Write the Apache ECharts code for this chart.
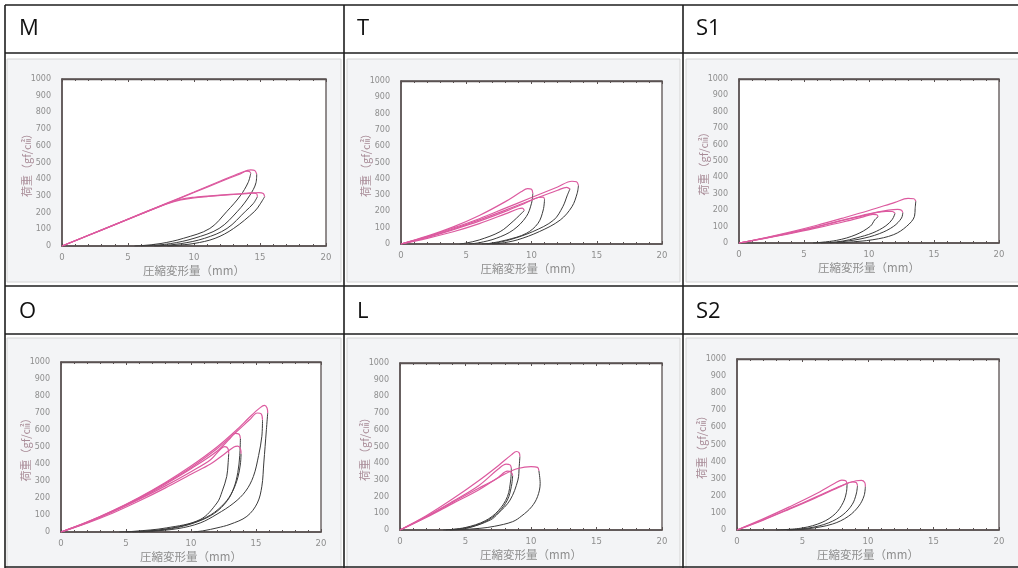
<!DOCTYPE html>
<html><head><meta charset="utf-8">
<script src="https://cdn.jsdelivr.net/npm/echarts@6/dist/echarts.min.js"></script>
<style>html,body{margin:0;padding:0;background:#fff}#c{width:1018px;height:568px}</style>
</head><body><div id="c"></div>
<script>
// ---- panel titles ----
const panelNames = ['M', 'T', 'S1', 'O', 'L', 'S2'];
const xTicks = [0, 5, 10, 15, 20];
const yTicks = [0, 100, 200, 300, 400, 500, 600, 700, 800, 900, 1000];
const xName = '圧縮変形量（mm）';
const yName = '荷重（gf/㎠）';

// ---- M: loading (pink) and unloading (black) curves, [mm, gf/cm2] ----
const M_load = [
  [[0,0],[2,63],[4,127],[6,192],[8,256],[10,320],[12,385],[13.5,432],[14.0,448],[14.2,446],[14.3,435]],
  [[0,0],[2,64],[4,129],[6,194],[8,258],[10,323],[12,389],[13.5,437],[14.3,456],[14.6,452],[14.75,430]],
  [[0,0],[2,64],[4,128],[6,193],[8,256],[9,280],[10,292],[11,299],[12,305],[13.5,313],[14.4,318],[14.75,312],[14.8,295]],
  [[0,0],[2,64],[4,128],[6,192],[8,254],[9,276],[10,288],[11,296],[12,303],[14,314],[14.9,320],[15.25,315],[15.35,295]]
];
const M_unload = [
  [[14.3,435],[14.1,380],[13.5,300],[12.5,208],[11.2,105],[9.2,46],[7.5,15],[6,2],[5.5,0]],
  [[14.75,430],[14.7,380],[14.2,300],[13.3,208],[11.9,105],[10,46],[8.2,14],[6.5,2],[6,0]],
  [[14.8,295],[14.5,255],[13.9,208],[12.5,105],[10.8,46],[9,14],[7.5,2],[7,0]],
  [[15.35,295],[15.0,250],[14.6,208],[13.0,105],[11.6,46],[10,15],[8.5,3],[8,0]]
];

// ---- T ----
const T_load = [
  [[0,0],[2,35],[4,75],[6,125],[8,185],[9.0,216],[9.3,220],[9.45,205]],
  [[0,0],[2,48],[4,105],[6,175],[8,260],[9.2,320],[9.7,340],[10.0,336],[10.1,310]],
  [[0,0],[2,40],[4,88],[6,140],[8,200],[9.5,250],[10.5,285],[10.9,288],[11.0,275]],
  [[0,0],[2,45],[4,98],[6,155],[8,220],[10,285],[12,350],[13.1,385],[13.45,382],[13.6,360]],
  [[0,0],[2,42],[4,92],[6,148],[8,208],[10,270],[12,330],[12.7,348],[12.95,338]]
];
const T_unload = [
  [[9.45,205],[9.1,178],[8.6,140],[7.6,76],[6.0,25],[5,6],[4.5,0]],
  [[10.1,310],[10.0,250],[9.6,168],[8.6,86],[7.3,35],[6.0,8],[5.2,0]],
  [[11.0,275],[10.9,209],[10.5,127],[9.6,65],[8.1,25],[6.8,4],[6.2,0]],
  [[13.6,360],[13.5,311],[13.1,229],[12.2,147],[10.6,76],[8.9,25],[7.6,4],[7,0]],
  [[12.95,338],[12.75,300],[12.4,229],[11.7,147],[10.1,76],[8.3,25],[7.1,4],[6.6,0]]
];

// ---- S1 ----
const S1_load = [
  [[0,0],[2,28],[4,58],[6,92],[8,128],[9.5,158],[10.3,175],[10.6,172],[10.7,160]],
  [[0,0],[2,30],[4,62],[6,98],[8,138],[10,175],[11.3,193],[11.8,192],[12.0,180]],
  [[0,0],[2,30],[4,63],[6,100],[8,140],[10,178],[11.5,200],[12.2,205],[12.5,200],[12.6,185]],
  [[0,0],[2,32],[4,68],[6,108],[8,152],[10,198],[12,248],[13,272],[13.45,270],[13.6,255]]
];
const S1_unload = [
  [[10.7,160],[10.45,142],[10.1,102],[9.0,51],[7.5,16],[5.7,0]],
  [[12.0,180],[11.8,145],[11.3,105],[10.3,62],[9,30],[8,12],[7,3],[6.3,0]],
  [[12.6,185],[12.5,152],[11.9,102],[10.8,57],[9.3,24],[7.5,4],[7,0]],
  [[13.6,255],[13.55,210],[13.5,163],[12.9,102],[11.9,51],[10.3,20],[8.3,4],[7.5,0]]
];

// ---- O ----
const O_load = [
  [[0,0],[2,55],[4,120],[6,192],[8,270],[10,355],[11.5,425],[12.3,490],[12.6,502],[12.85,490],[12.9,460]],
  [[0,0],[2,52],[4,112],[6,182],[8,258],[10,340],[11.5,400],[12.5,455],[13.3,500],[13.6,505],[13.8,490],[13.85,460]],
  [[0,0],[2,56],[4,122],[6,196],[8,280],[10,372],[12,475],[13,550],[13.4,580],[13.7,575],[13.8,550]],
  [[0,0],[2,58],[4,125],[6,200],[8,285],[10,380],[12,490],[13.5,590],[14.5,660],[15.1,700],[15.4,695],[15.5,660]],
  [[0,0],[2,58],[4,126],[6,203],[8,290],[10,388],[12,500],[13.5,600],[14.5,675],[15.3,730],[15.65,745],[15.85,730],[15.9,700]]
];
const O_unload = [
  [[12.9,460],[12.85,400],[12.75,327],[12.4,240],[12.0,171],[10.7,73],[8.1,24],[5.6,4],[4.5,0]],
  [[13.85,460],[13.8,400],[13.6,320],[13.2,240],[12.6,171],[11.5,100],[10,50],[8,17],[6,3],[5,0]],
  [[13.8,550],[13.75,450],[13.6,350],[13.3,260],[12.8,185],[11.8,110],[10.3,55],[8.5,20],[6.5,4],[5.5,0]],
  [[15.5,660],[15.45,563],[15.2,450],[14.8,327],[14.2,240],[13.3,171],[12,105],[10.7,53],[9,20],[6.9,4],[6,0]],
  [[15.9,700],[15.8,602],[15.6,406],[15.45,269],[15.1,170],[14.3,92],[13,45],[12,24],[11,8],[10.2,0]]
];

// ---- L ----
const L_load = [
  [[0,0],[2,85],[4,185],[6,295],[7.5,385],[8.5,450],[8.9,470],[9.1,462],[9.15,440]],
  [[0,0],[2,80],[4,170],[6,265],[7.5,365],[8.1,395],[8.4,390],[8.5,370]],
  [[0,0],[2,75],[4,158],[6,240],[7.5,315],[8.2,352],[8.5,345],[8.6,325]],
  [[0,0],[2,78],[4,165],[6,250],[7,290],[8,335],[9,368],[10,380],[10.5,375],[10.6,355]]
];
const L_unload = [
  [[9.15,440],[9.1,380],[9.0,299],[8.4,179],[7.5,100],[6.9,60],[5.1,10],[3.8,0]],
  [[8.5,370],[8.45,300],[8.2,200],[7.5,115],[6.5,55],[5,15],[3.5,0]],
  [[8.6,325],[8.5,260],[8.2,180],[7.5,105],[6.5,50],[5,12],[3.3,0]],
  [[10.6,355],[10.7,279],[10.5,200],[10.05,139],[9.3,85],[8.6,50],[7.2,22],[6.1,10],[4.5,2],[3.8,0]]
];

// ---- S2 ----
const S2_load = [
  [[0,0],[2,65],[4,135],[6,210],[7.5,275],[8.0,292],[8.3,288],[8.4,270]],
  [[0,0],[2,58],[4,122],[6,188],[8,258],[8.8,282],[9.1,278],[9.2,260]],
  [[0,0],[2,60],[4,125],[6,192],[8,260],[9.1,288],[9.5,290],[9.75,278],[9.8,255]]
];
const S2_unload = [
  [[8.4,270],[8.35,220],[8.1,160],[7.5,95],[6.5,45],[5,12],[3,0]],
  [[9.2,260],[9.1,210],[8.8,150],[8.1,90],[7,42],[5.5,12],[3.8,0]],
  [[9.8,255],[9.7,200],[9.3,140],[8.5,80],[7.3,35],[5.5,8],[4,0]]
];

const loads = [M_load, T_load, S1_load, O_load, L_load, S2_load];
const unloads = [M_unload, T_unload, S1_unload, O_unload, L_unload, S2_unload];

// ---- layout (pixels) ----
const grids = [
  {left:62, top:79, width:264, height:167},
  {left:401, top:81, width:261, height:163},
  {left:739, top:79, width:260, height:164},
  {left:61, top:362, width:260, height:170},
  {left:400, top:363, width:262, height:167},
  {left:737, top:359, width:262, height:171}
];
const imgBoxes = [
  {x:7, y:59, w:334, h:223}, {x:347, y:59, w:333, h:223}, {x:686, y:59, w:340, h:223},
  {x:7, y:338, w:334, h:232}, {x:347, y:338, w:333, h:232}, {x:686, y:338, w:340, h:232}
];
const titlePos = [[19,29],[357,29],[696,29],[19,312],[357,312],[696,312]];

const PINK = '#dc5a9f', BLACK = '#3a3a3a', AX = '#5a5252', LBL = '#8e8e8e';
const CJK = '"Noto Sans CJK JP", "Noto Sans", sans-serif';

const option = {animation:false, grid:[], xAxis:[], yAxis:[], series:[], graphic:[]};

grids.forEach((g, i) => {
  option.grid.push(Object.assign({show:true, backgroundColor:'#ffffff', borderColor:AX, borderWidth:1.3, containLabel:false}, g));
  option.xAxis.push({
    type:'value', gridIndex:i, min:xTicks[0], max:xTicks[xTicks.length-1], interval:5, position:'bottom',
    name:xName, nameLocation:'middle', nameGap:19, nameMoveOverlap:false,
    nameTextStyle:{color:LBL, fontSize:11.5, fontFamily:CJK},
    axisLine:{show:true, lineStyle:{color:AX, width:1.5}},
    axisTick:{show:true, inside:true, length:3, lineStyle:{color:AX}},
    minorTick:{show:true, splitNumber:5, length:2, lineStyle:{color:AX}},
    axisLabel:{color:LBL, fontSize:8.5, margin:7, fontFamily:'DejaVu Sans', formatter: v => String(v)},
    splitLine:{show:false}
  });
  option.xAxis.push({
    type:'value', gridIndex:i, min:xTicks[0], max:xTicks[xTicks.length-1], interval:5, position:'top',
    axisLine:{show:true, lineStyle:{color:AX, width:1.3}},
    axisTick:{show:true, inside:true, length:3, lineStyle:{color:AX}},
    minorTick:{show:true, splitNumber:5, length:2, lineStyle:{color:AX}},
    axisLabel:{show:false}, splitLine:{show:false}
  });
  option.yAxis.push({
    type:'value', gridIndex:i, min:yTicks[0], max:yTicks[yTicks.length-1], interval:100,
    name:yName, nameLocation:'middle', nameGap:30, nameRotate:90, nameMoveOverlap:false,
    nameTextStyle:{color:'#a88b97', fontSize:11, fontFamily:CJK},
    axisLine:{show:true, lineStyle:{color:AX, width:1.5}},
    axisTick:{show:false},
    axisLabel:{color:LBL, fontSize:8, margin:11, fontFamily:'DejaVu Sans', formatter: v => String(v)},
    splitLine:{show:false}
  });
  loads[i].forEach(d => option.series.push({
    type:'line', xAxisIndex:2*i, yAxisIndex:i, data:d, showSymbol:false, smooth:0.35,
    lineStyle:{color:PINK, width:1.2}, z:3
  }));
  unloads[i].forEach(d => option.series.push({
    type:'line', xAxisIndex:2*i, yAxisIndex:i, data:d, showSymbol:false, smooth:0.35,
    lineStyle:{color:BLACK, width:1}, z:2
  }));
  const b = imgBoxes[i];
  option.graphic.push({type:'rect', shape:{x:b.x, y:b.y, width:b.w, height:b.h}, style:{fill:'#f3f4f6', stroke:'#d4d4d4', lineWidth:1}, z:-10, silent:true});
  option.graphic.push({type:'text', x:titlePos[i][0], y:titlePos[i][1], style:{text:panelNames[i], fontSize:22, fontFamily:'"Open Sans", "Liberation Sans", sans-serif', fill:'#111', textVerticalAlign:'middle'}, z:5});
});

// table lines
const hLines = [5, 53, 286, 334, 567];
const vLines = [5, 344, 683];
hLines.forEach(y => option.graphic.push({type:'line', shape:{x1:5, y1:y, x2:1018, y2:y}, style:{stroke:'#1e1e1e', lineWidth:1.6}, z:6, silent:true}));
vLines.forEach(x => option.graphic.push({type:'line', shape:{x1:x, y1:5, x2:x, y2:568}, style:{stroke:'#1e1e1e', lineWidth:1.6}, z:6, silent:true}));

const chart = echarts.init(document.getElementById('c'), null, {renderer:'canvas'});
chart.setOption(option);
</script>
</body></html>
